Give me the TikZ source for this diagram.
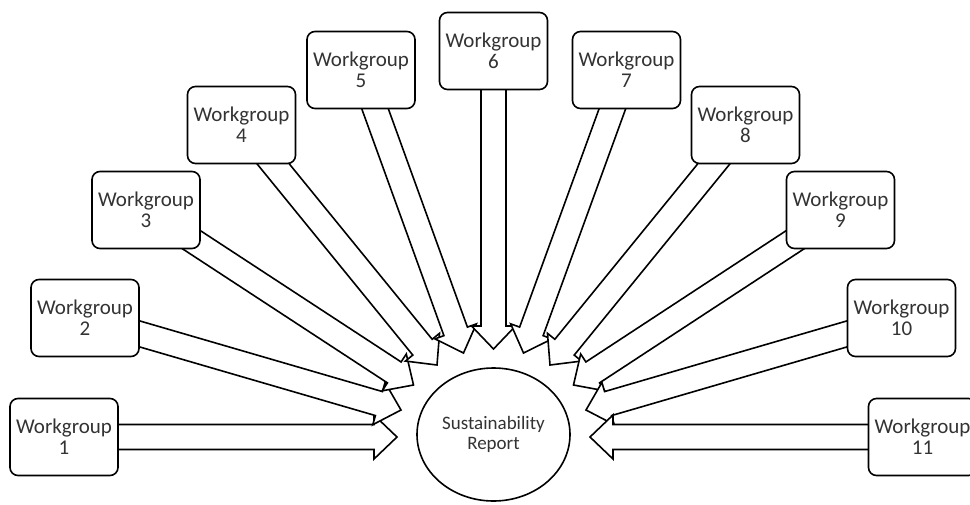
\documentclass[tikz,border=0pt]{standalone}
\usepackage{fontspec}
\setmainfont{Carlito}
\usetikzlibrary{calc,shapes.geometric,backgrounds}

\begin{document}
\begin{tikzpicture}[x=1pt,y=-1pt,line width=1.6pt,group/.style={shape=rectangle,rounded corners=8pt,draw=black,fill=white,minimum width=108pt,minimum height=77pt,inner sep=0pt,align=center,text=black!80,font=\fontsize{21}{21}\selectfont},report/.style={shape=ellipse,draw=black,fill=white,minimum width=153pt,minimum height=133pt,inner sep=0pt,align=center,text=black!80,font=\fontsize{19}{20}\selectfont},feed/.style={draw=black,fill=white,line width=1.6pt,line join=miter}]
\def\sw{12.5pt};
\def\hw{22pt};
\def\hl{23pt};

\useasboundingbox (0,0) rectangle (970,504);

\node[report] (R) at (493.5,434.5) {Sustainability\\Report};

\foreach \i/\x/\y in {1/64/437,2/85/318,3/146/210,4/241.5/125,5/361/70,6/493.5/51,7/626.5/70,8/745.5/125,9/840.5/210,10/901.5/318,11/922.5/437}
  \node[group] (W\i) at (\x,\y) {Workgroup\\\i};

\foreach \i/\x/\y in {1/397/437,2/401/410,3/413.5/385,4/437/365,5/463.5/353,6/493.5/349,7/523.5/353,8/550/365,9/573.5/385,10/586/410,11/590/437}
  \coordinate (T\i) at (\x,\y);

\begin{pgfonlayer}{background}
\foreach \i in {1,...,11}{
  \coordinate (J) at ($(T\i)!\hl!(W\i)$);
  \draw[feed] ($(W\i)!\sw!90:(T\i)$) -- ($(J)!\sw!90:(T\i)$) -- ($(J)!\hw!90:(T\i)$) -- (T\i) -- ($(J)!\hw!-90:(T\i)$) -- ($(J)!\sw!-90:(T\i)$) -- ($(W\i)!\sw!-90:(T\i)$) -- cycle;
}
\end{pgfonlayer}
\end{tikzpicture}
\end{document}
